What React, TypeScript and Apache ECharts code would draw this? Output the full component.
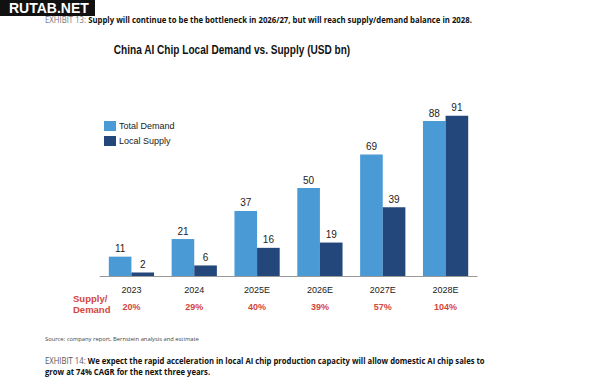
import React, { useEffect, useRef } from "react";
import * as echarts from "echarts";

const categories = ["2023", "2024", "2025E", "2026E", "2027E", "2028E"];
const totalDemand = [11, 21, 37, 50, 69, 88];
const localSupply = [2, 6, 16, 19, 39, 91];
const ratioLabels = ["20%", "29%", "40%", "39%", "57%", "104%"];

const LIGHT = "#4a9ad6";
const NAVY = "#23467b";
const RED = "#d4463b";
const ARIAL = "'Liberation Sans', Arial, sans-serif";
const BODY = "'Open Sans', 'Noto Sans', sans-serif";

export default function App() {
  const ref = useRef<HTMLDivElement>(null);
  useEffect(() => {
    const chart = echarts.init(ref.current!, null, { renderer: "svg" });
    chart.setOption({
      animation: false,
      backgroundColor: "#ffffff",
      grid: { left: 100, right: 123, top: 100, bottom: 113 },
      legend: {
        orient: "vertical",
        left: 99,
        top: 116,
        itemWidth: 12,
        itemHeight: 10,
        itemGap: 5,
        icon: "rect",
        textStyle: { fontFamily: ARIAL, fontSize: 9, color: "#222", padding: [0, 0, 0, -2] },
        data: ["Total Demand", "Local Supply"],
      },
      xAxis: {
        type: "category",
        data: categories,
        axisLine: { lineStyle: { color: "#999", width: 1 } },
        axisTick: { show: false },
        axisLabel: {
          interval: 0,
          margin: 5,
          formatter: (v: string, i: number) => `{y|${v}}\n{p|${ratioLabels[i]}}`,
          rich: {
            y: { fontFamily: ARIAL, fontSize: 9, color: "#222", lineHeight: 17 },
            p: { fontFamily: ARIAL, fontSize: 9, fontWeight: "bold", color: RED, lineHeight: 17 },
          },
        },
      },
      yAxis: {
        type: "value",
        min: 0,
        max: 100,
        show: false,
        splitLine: { show: false },
      },
      series: [
        {
          name: "Total Demand",
          type: "bar",
          data: totalDemand,
          barGap: "0%",
          barCategoryGap: "28%",
          itemStyle: { color: LIGHT },
          label: { show: true, position: "top", distance: 3, fontFamily: ARIAL, fontSize: 10, color: "#222" },
        },
        {
          name: "Local Supply",
          type: "bar",
          data: localSupply,
          itemStyle: { color: NAVY },
          label: { show: true, position: "top", distance: 3, fontFamily: ARIAL, fontSize: 10, color: "#222" },
        },
      ],
      graphic: [
        { type: "rect", shape: { x: 0, y: 0, width: 95, height: 16 }, style: { fill: "#111" } },
        {
          type: "text",
          x: 9,
          y: 8,
          style: { text: "RUTAB.NET", fill: "#fff", font: `bold 14px ${ARIAL}`, verticalAlign: "middle" },
        },
        {
          type: "text",
          x: 45,
          y: 19,
          scaleX: 0.915,
          style: {
            text: "{g|EXHIBIT 13: }{b|Supply will continue to be the bottleneck in 2026/27, but will reach supply/demand balance in 2028.}",
            verticalAlign: "middle",
            rich: {
              g: { fontFamily: BODY, fontSize: 8.5, fill: "#777", fontWeight: "normal" },
              b: { fontFamily: BODY, fontSize: 8.5, fill: "#111", fontWeight: "bold" },
            },
          },
        },
        {
          type: "text",
          x: 232,
          y: 50,
          scaleX: 0.84,
          style: {
            text: "China AI Chip Local Demand vs. Supply (USD bn)",
            fill: "#111",
            font: `bold 12px ${ARIAL}`,
            align: "center",
            verticalAlign: "middle",
          },
        },
        {
          type: "text",
          x: 73,
          y: 304,
          style: {
            text: "Supply/\nDemand",
            fill: RED,
            font: `bold 9.5px ${ARIAL}`,
            lineHeight: 11,
            verticalAlign: "middle",
          },
        },
        {
          type: "text",
          x: 45,
          y: 339,
          style: {
            text: "Source: company report, Bernstein analysis and estimate",
            fill: "#444",
            font: `5.8px ${BODY}`,
            verticalAlign: "middle",
          },
        },
        {
          type: "text",
          x: 45,
          y: 366,
          scaleX: 0.905,
          style: {
            text: "{g|EXHIBIT 14: }{b|We expect the rapid acceleration in local AI chip production capacity will allow domestic AI chip sales to}\n{b|grow at 74% CAGR for the next three years.}",
            verticalAlign: "middle",
            rich: {
              g: { fontFamily: BODY, fontSize: 8.5, fill: "#555", fontWeight: "normal", lineHeight: 11 },
              b: { fontFamily: BODY, fontSize: 8.5, fill: "#111", fontWeight: "bold", lineHeight: 11 },
            },
          },
        },
      ],
    });
    return () => chart.dispose();
  }, []);
  return <div ref={ref} style={{ position: "absolute", left: 0, top: 0, width: 600, height: 389 }} />;
}
